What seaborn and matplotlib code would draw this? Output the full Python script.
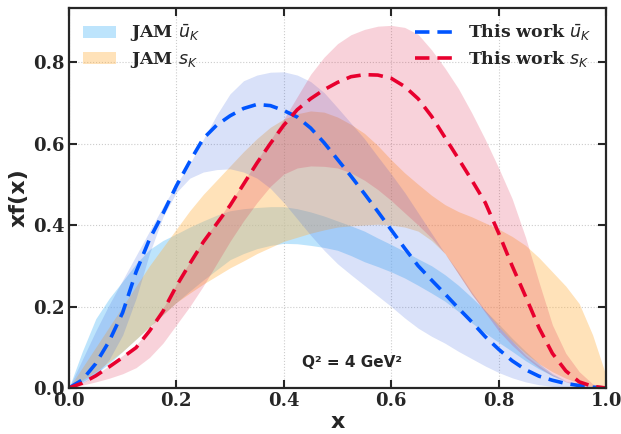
import numpy as np
import pandas as pd
import matplotlib
matplotlib.use("Agg")
import matplotlib.pyplot as plt
import seaborn as sns

# ---------------- data ----------------
x = [0.000, 0.025, 0.050, 0.075, 0.100, 0.125, 0.150, 0.175, 0.200, 0.225,
     0.250, 0.275, 0.300, 0.325, 0.350, 0.375, 0.400, 0.425, 0.450, 0.475,
     0.500, 0.525, 0.550, 0.575, 0.600, 0.625, 0.650, 0.675, 0.700, 0.725,
     0.750, 0.775, 0.800, 0.825, 0.850, 0.875, 0.900, 0.925, 0.950, 0.975,
     1.000]

# This work, ubar_K : central curve and band
tw_u = [0.0, 0.02, 0.06, 0.115, 0.185, 0.285, 0.365, 0.428, 0.496, 0.556,
        0.612, 0.645, 0.668, 0.686, 0.696, 0.693, 0.681, 0.665, 0.638, 0.602,
        0.561, 0.52, 0.477, 0.433, 0.388, 0.343, 0.30, 0.265, 0.231, 0.196,
        0.162, 0.126, 0.095, 0.067, 0.045, 0.029, 0.019, 0.011, 0.006, 0.002,
        0.0]
tw_u_hi = [0.0, 0.07, 0.14, 0.205, 0.265, 0.325, 0.385, 0.445, 0.50, 0.55,
           0.61, 0.67, 0.722, 0.754, 0.768, 0.775, 0.776, 0.768, 0.752, 0.725,
           0.688, 0.65, 0.612, 0.568, 0.525, 0.48, 0.43, 0.38, 0.33, 0.285,
           0.235, 0.19, 0.15, 0.115, 0.08, 0.055, 0.032, 0.017, 0.008, 0.003,
           0.0]
tw_u_lo = [0.0, 0.012, 0.03, 0.07, 0.13, 0.22, 0.33, 0.42, 0.48, 0.515,
           0.53, 0.536, 0.538, 0.53, 0.515, 0.49, 0.455, 0.415, 0.375, 0.338,
           0.305, 0.278, 0.252, 0.226, 0.20, 0.172, 0.147, 0.127, 0.11, 0.09,
           0.072, 0.054, 0.038, 0.025, 0.015, 0.008, 0.004, 0.002, 0.001, 0.0,
           0.0]

# This work, s_K : central curve and band
tw_s = [0.0, 0.012, 0.03, 0.052, 0.075, 0.099, 0.14, 0.188, 0.25, 0.305,
        0.358, 0.403, 0.448, 0.50, 0.552, 0.60, 0.645, 0.683, 0.71, 0.732,
        0.75, 0.764, 0.769, 0.768, 0.76, 0.74, 0.71, 0.667, 0.615, 0.563,
        0.51, 0.455, 0.38, 0.30, 0.225, 0.148, 0.085, 0.042, 0.015, 0.004,
        0.0]
tw_s_hi = [0.0, 0.013, 0.032, 0.055, 0.08, 0.105, 0.145, 0.195, 0.255, 0.31,
           0.362, 0.408, 0.455, 0.505, 0.558, 0.608, 0.66, 0.715, 0.77, 0.812,
           0.845, 0.867, 0.88, 0.888, 0.89, 0.885, 0.868, 0.83, 0.785, 0.735,
           0.675, 0.61, 0.54, 0.465, 0.37, 0.26, 0.155, 0.085, 0.04, 0.01,
           0.0]
tw_s_lo = [0.0, 0.007, 0.015, 0.024, 0.035, 0.05, 0.075, 0.11, 0.155, 0.20,
           0.25, 0.305, 0.36, 0.41, 0.455, 0.495, 0.525, 0.54, 0.545, 0.544,
           0.54, 0.528, 0.51, 0.487, 0.46, 0.43, 0.40, 0.368, 0.33, 0.28,
           0.23, 0.185, 0.14, 0.105, 0.075, 0.05, 0.03, 0.015, 0.005, 0.001,
           0.0]

# JAM ubar_K band
jam_u_hi = [0.0, 0.09, 0.17, 0.22, 0.262, 0.305, 0.34, 0.362, 0.378, 0.395,
            0.41, 0.424, 0.435, 0.44, 0.443, 0.445, 0.445, 0.44, 0.432, 0.422,
            0.41, 0.398, 0.385, 0.368, 0.352, 0.335, 0.317, 0.30, 0.278, 0.252,
            0.222, 0.19, 0.157, 0.122, 0.09, 0.06, 0.035, 0.018, 0.008, 0.003,
            0.0]
jam_u_lo = [0.0, 0.015, 0.035, 0.06, 0.09, 0.12, 0.15, 0.18, 0.21, 0.238,
            0.265, 0.29, 0.315, 0.33, 0.342, 0.35, 0.355, 0.354, 0.35, 0.345,
            0.338, 0.325, 0.31, 0.298, 0.285, 0.27, 0.252, 0.233, 0.213, 0.188,
            0.16, 0.135, 0.112, 0.09, 0.067, 0.047, 0.03, 0.018, 0.01, 0.004,
            0.0]

# JAM s_K band
jam_s_hi = [0.0, 0.05, 0.10, 0.15, 0.20, 0.25, 0.30, 0.345, 0.39, 0.435,
            0.475, 0.51, 0.545, 0.58, 0.612, 0.64, 0.66, 0.673, 0.68, 0.677,
            0.665, 0.647, 0.625, 0.595, 0.56, 0.528, 0.50, 0.473, 0.45, 0.433,
            0.42, 0.405, 0.39, 0.372, 0.35, 0.32, 0.285, 0.25, 0.207, 0.13,
            0.03]
jam_s_lo = [0.0, 0.02, 0.04, 0.065, 0.09, 0.12, 0.15, 0.18, 0.21, 0.233,
            0.255, 0.275, 0.295, 0.312, 0.33, 0.345, 0.36, 0.37, 0.38, 0.388,
            0.395, 0.398, 0.40, 0.402, 0.40, 0.395, 0.385, 0.362, 0.33, 0.28,
            0.23, 0.188, 0.15, 0.115, 0.085, 0.06, 0.04, 0.024, 0.012, 0.004,
            0.0]

xticks = [0.0, 0.2, 0.4, 0.6, 0.8, 1.0]
yticks = [0.0, 0.2, 0.4, 0.6, 0.8]

# ---------------- style ----------------
sns.set_style("ticks")
plt.rcParams['font.family'] = ['DejaVu Sans']
plt.rcParams['mathtext.fontset'] = 'dejavusans'

fig = plt.figure(figsize=(6.21, 4.34), dpi=100)
ax = fig.add_axes([0.111, 0.106, 0.865, 0.875])

c_jam_u = "#87CEFA"
c_jam_s = "#FFB347"
c_tw_u = "#4169E1"
c_tw_s = "#DC143C"

ax.fill_between(x, jam_u_lo, jam_u_hi, color=c_jam_u, alpha=0.55, lw=0,
                label=r"JAM $\bar{u}_K$")
ax.fill_between(x, jam_s_lo, jam_s_hi, color=c_jam_s, alpha=0.38, lw=0,
                label=r"JAM $s_K$")
ax.fill_between(x, tw_u_lo, tw_u_hi, color=c_tw_u, alpha=0.2, lw=0)
ax.fill_between(x, tw_s_lo, tw_s_hi, color=c_tw_s, alpha=0.19, lw=0)

df = pd.DataFrame({"x": x, "u": tw_u, "s": tw_s})
sns.lineplot(data=df, x="x", y="u", ax=ax, color="#0055ff", lw=2.6,
             linestyle=(0, (4, 2.2)), label=r"This work $\bar{u}_K$")
sns.lineplot(data=df, x="x", y="s", ax=ax, color="#e8002e", lw=2.6,
             linestyle=(0, (4, 2.2)), label=r"This work $s_K$")

ax.set_xlim(0, 1.0)
ax.set_ylim(0, 0.932)
ax.set_xticks(xticks)
ax.set_yticks(yticks)
ax.set_xticklabels([f"{t:.1f}" for t in xticks], family="DejaVu Serif",
                   fontweight="bold", fontsize=13)
ax.set_yticklabels([f"{t:.1f}" for t in yticks], family="DejaVu Serif",
                   fontweight="bold", fontsize=13)
ax.tick_params(direction="in", length=6, width=1.5, top=True, right=True, pad=3)
for sp in ax.spines.values():
    sp.set_linewidth(1.6)
    sp.set_visible(True)
ax.grid(True, linestyle=":", color="#cccccc", lw=0.8)

ax.set_xlabel("x", fontsize=16, fontweight="bold", labelpad=1)
ax.set_ylabel("xf(x)", fontsize=16, fontweight="bold", labelpad=3)

ax.text(0.527, 0.062, "Q² = 4 GeV²", fontsize=11, fontweight="bold",
        ha="center", va="center", transform=ax.transData)

handles, labels = ax.get_legend_handles_labels()
hd = dict(zip(labels, handles))
prop = {"family": "DejaVu Serif", "weight": "bold", "size": 12.5}
leg1 = ax.legend([hd[r"JAM $\bar{u}_K$"], hd[r"JAM $s_K$"]],
                 [r"JAM $\bar{u}_K$", r"JAM $s_K$"], loc="upper left",
                 frameon=False, prop=prop, handlelength=1.9, borderaxespad=0.4,
                 labelspacing=0.35)
ax.add_artist(leg1)
ax.legend([hd[r"This work $\bar{u}_K$"], hd[r"This work $s_K$"]],
          [r"This work $\bar{u}_K$", r"This work $s_K$"], loc="upper right",
          frameon=False, prop=prop, handlelength=2.3, borderaxespad=0.4,
          labelspacing=0.35)

fig.savefig("out.png", dpi=100)
